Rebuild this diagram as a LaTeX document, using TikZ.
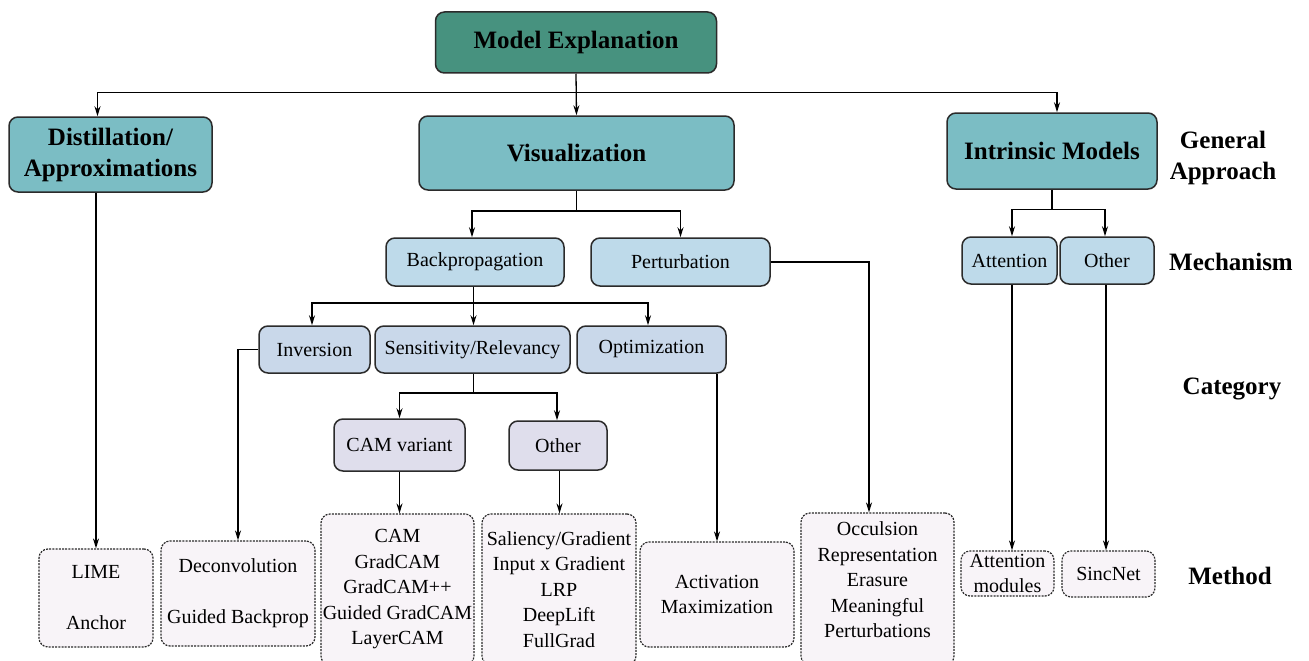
\documentclass[tikz,border=0pt]{standalone}
\usepackage{fontspec}
\newfontfamily\timesfont{Liberation Serif}
\usetikzlibrary{arrows.meta,calc}
\definecolor{cme}{HTML}{47927F}
\definecolor{cteal}{HTML}{7BBDC4}
\definecolor{cmech}{HTML}{BEDAEA}
\definecolor{ccat}{HTML}{C9D8EA}
\definecolor{csub}{HTML}{DFDEEC}
\definecolor{cmeth}{HTML}{F8F4F8}
\definecolor{cborder}{HTML}{2B2B2B}
\newcommand\bigfnt{\fontsize{25}{31}\selectfont\timesfont\bfseries}
\newcommand\smfnt{\fontsize{20}{25.5}\selectfont\timesfont}
\begin{document}
\begin{tikzpicture}[x=1pt,y=-1pt,
  box/.style={draw=cborder,line width=1.5pt,rounded corners=9pt,inner sep=0pt,align=center},
  big/.style={box,fill=cteal,font=\bigfnt},
  mech/.style={box,fill=cmech,font=\smfnt},
  cat/.style={box,fill=ccat,font=\smfnt},
  sub/.style={box,fill=csub,font=\smfnt},
  meth/.style={draw=cborder,line width=1.2pt,dash pattern=on 2pt off 1.2pt,rounded corners=9pt,fill=cmeth,inner sep=0pt,align=center,font=\smfnt},
  lab/.style={align=center,font=\bigfnt},
  arr/.style={-{Stealth[length=10pt,width=6pt]},line width=1.3pt},
  ln/.style={line width=1.3pt}
]
\useasboundingbox[fill=white] (0,0) rectangle (1309,661);

% General approach
\node[big,fill=cme,minimum width=281pt,minimum height=61pt] (me) at (576,42.5) {Model Explanation};
\node[big,minimum width=203pt,minimum height=75pt] (dist) at (110.5,154.5) {Distillation/\\Approximations};
\node[big,minimum width=315pt,minimum height=74pt] (vis) at (576.5,153) {Visualization};
\node[big,minimum width=210pt,minimum height=76pt] (intr) at (1052,151) {Intrinsic Models};
\node[lab] (ga) at (1223,158) {General\\Approach};

% Mechanism
\node[mech,minimum width=178pt,minimum height=48pt] (bp) at (475,262) {Backpropagation};
\node[mech,minimum width=179pt,minimum height=48pt] (pert) at (680.5,262) {Perturbation};
\node[mech,minimum width=95pt,minimum height=47pt] (att) at (1009.5,260.5) {Attention};
\node[mech,minimum width=94pt,minimum height=47pt] (oth2) at (1107,260.5) {Other};
\node[lab] (mlab) at (1231,262) {Mechanism};

% Category
\node[cat,minimum width=111pt,minimum height=47pt] (inv) at (314.5,349.5) {Inversion};
\node[cat,minimum width=195pt,minimum height=47pt] (sens) at (472.5,349.5) {Sensitivity/Relevancy};
\node[cat,minimum width=149pt,minimum height=47pt] (opt) at (651.5,349.5) {Optimization};
\node[lab] (clab) at (1232,389) {Category};

\node[sub,minimum width=131pt,minimum height=52pt] (cam) at (399.5,445) {CAM variant};
\node[sub,minimum width=98pt,minimum height=49pt] (oth) at (558,445.5) {Other};

% Method
\node[meth,minimum width=114pt,minimum height=98pt] (lime) at (96,598) {LIME\\[25.5pt]Anchor};
\node[meth,minimum width=154pt,minimum height=105pt] (decon) at (238,593.5) {Deconvolution\\[25.5pt]Guided Backprop};
\node[meth,minimum width=153pt,minimum height=151pt] (camm) at (397.5,589.5) {CAM\\GradCAM\\GradCAM++\\Guided GradCAM\\LayerCAM};
\node[meth,minimum width=154pt,minimum height=151pt] (sal) at (559,589.5) {Saliency/Gradient\\Input x Gradient\\LRP\\DeepLift\\FullGrad};
\node[meth,minimum width=154pt,minimum height=105pt] (act) at (717,594.5) {Activation\\Maximization};
\node[meth,minimum width=153pt,minimum height=152pt,text depth=18pt] (occ) at (877.5,589) {Occulsion\\Representation\\Erasure\\Meaningful\\Perturbations};
\node[meth,minimum width=93pt,minimum height=45pt] (attm) at (1007.5,573.5) {Attention\\modules};
\node[meth,minimum width=93pt,minimum height=46pt] (sinc) at (1108.5,574) {SincNet};
\node[lab] (mthlab) at (1230,576) {Method};

% connectors
\coordinate (j1) at (576,92.5);
\draw[arr] (me.south) -- (vis.north);
\draw[arr] (j1) -| ([xshift=-13pt]dist.north);
\draw[arr] (j1) -| ([xshift=5pt]intr.north);

\coordinate (j2) at (576.5,211);
\draw[ln] (vis.south) -- (j2);
\draw[arr] (j2) -| ([xshift=-3pt]bp.north);
\draw[arr] (j2) -| (pert.north);

\coordinate (j3) at (1052,209.5);
\draw[ln] (intr.south) -- (j3);
\draw[arr] (j3) -| ([xshift=2.5pt]att.north);
\draw[arr] (j3) -| ([xshift=-2pt]oth2.north);

\coordinate (j4) at (473.5,303);
\draw[ln] ([xshift=-1.5pt]bp.south) -- (j4);
\draw[arr] (j4) -| ([xshift=-2.5pt]inv.north);
\draw[arr] (j4) -- (j4 |- sens.north);
\draw[arr] (j4) -| ([xshift=-3.5pt]opt.north);

\coordinate (j5) at (473.5,393);
\draw[ln] (sens.south -| j5) -- (j5);
\draw[arr] (j5) -| (cam.north);
\draw[arr] (j5) -| ([xshift=-1pt]oth.north);

\draw[arr] (cam.south) -- (cam.south |- camm.north);
\draw[arr] ([xshift=1.5pt]oth.south) -- ([xshift=1.5pt]oth.south |- sal.north);
\draw[arr] (dist.south -| lime.north) -- (lime.north);
\draw[arr] (inv.west) -| (decon.north);
\draw[arr] (opt.south -| act.north) -- (act.north);
\draw[arr] (pert.east) -| ([xshift=-8.5pt]occ.north);
\draw[arr] ([xshift=2.5pt]att.south) -- ([xshift=2.5pt]att.south |- attm.north);
\draw[arr] ([xshift=-1pt]oth2.south) -- ([xshift=-1pt]oth2.south |- sinc.north);
\end{tikzpicture}
\end{document}
